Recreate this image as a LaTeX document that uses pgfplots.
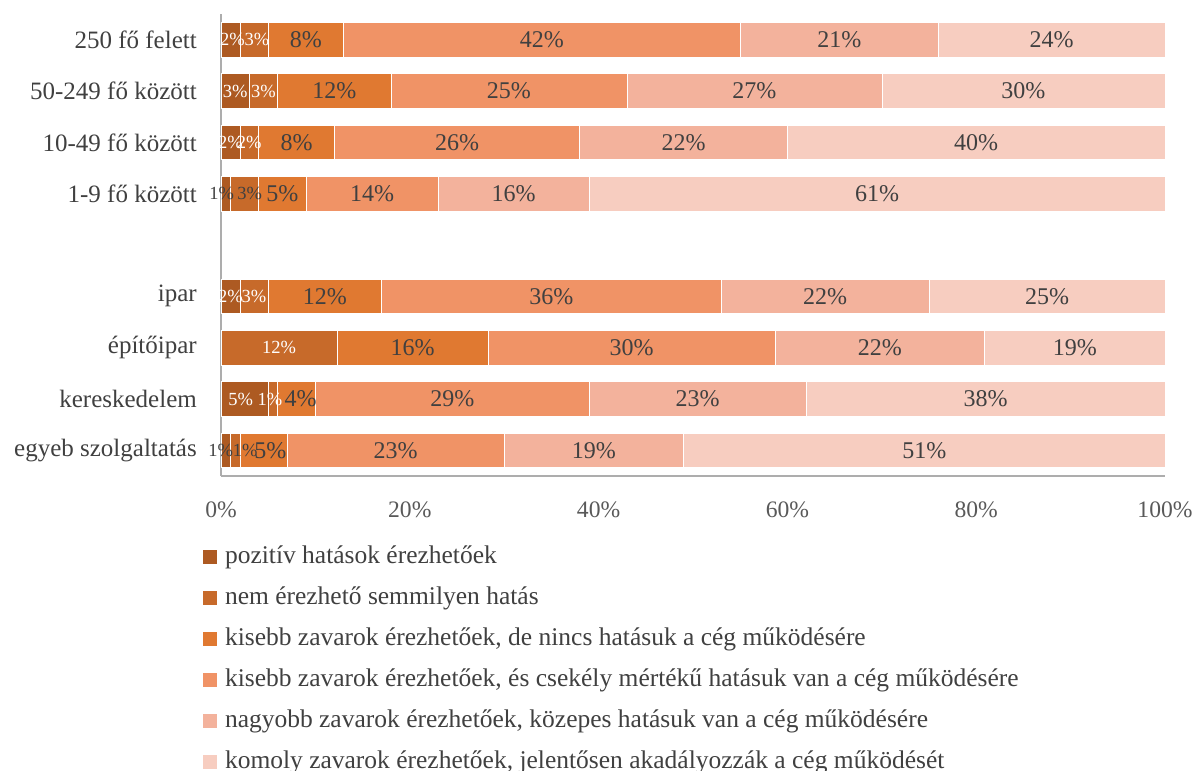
\documentclass[border=0pt]{standalone}
\usepackage{pgfplots}
\pgfplotsset{compat=1.18}
\usepackage{pgfplotstable}
\usepackage{fontspec}
\setmainfont{Liberation Serif}
\definecolor{c1}{HTML}{AD5A22}
\definecolor{c2}{HTML}{C76A2A}
\definecolor{c3}{HTML}{E07931}
\definecolor{c4}{HTML}{F09366}
\definecolor{c5}{HTML}{F3B29C}
\definecolor{c6}{HTML}{F7CDC0}
\definecolor{labgray}{HTML}{404040}
\definecolor{tickgray}{HTML}{595959}
\definecolor{axisgray}{HTML}{ADADAD}
\pgfplotstableread{
y a b c d e f dk oa ob oc
0 2 3 8 42 21 24 0 2 3 0
1 3 3 12 25 27 30 0 0 0 0
2 2 2 8 26 22 40 0 0 0 0
3 1 3 5 14 16 61 1 -4 5 0
5 2 3 12 36 22 25 0 0 0 0
6 0 12.3 16 30.4 22.2 19.1 0 0 0 0
7 5 1 4 29 23 38 0 -4 -3 4
8 1 1 5 23 19 51 1 -5 10 7
}\data
\pgfplotsset{
  smallseg/.style 2 args={fill=#2, draw=white, line width=0.6pt,
    point meta=\thisrow{#1},
    visualization depends on={\thisrow{#1}\as\rawx},
    visualization depends on={\thisrow{o#1}\as\ofs},
    visualization depends on={\thisrow{dk}\as\dk},
    nodes near coords={\ifdim\rawx pt>0pt\relax\ifdim\dk pt>0.5pt\relax\color{labgray}\fi\pgfmathprintnumber[fixed,precision=0]{\pgfplotspointmeta}\%\fi},
    every node near coord/.append style={anchor=center, text=white, inner sep=0pt,
      font=\fontsize{18.5}{20}\selectfont, xshift=\ofs pt}},
  bigseg/.style 2 args={fill=#2, draw=white, line width=0.6pt,
    point meta=\thisrow{#1},
    nodes near coords={\pgfmathprintnumber[fixed,precision=0]{\pgfplotspointmeta}\%},
    every node near coord/.append style={anchor=center, text=labgray, inner sep=0pt,
      font=\fontsize{24}{26}\selectfont}},
}
\begin{document}
\begin{tikzpicture}
\path[use as bounding box] (0,0) rectangle (1194pt,771pt);
\begin{axis}[
  at={(221pt,295pt)}, anchor=south west,
  scale only axis, width=944pt, height=462pt,
  xbar stacked, bar width=34.5pt,
  xmin=0, xmax=100, ymin=-0.5, ymax=8.5, y dir=reverse,
  clip=false,
  axis x line*=bottom, axis y line*=left,
  axis line style={draw=axisgray, line width=1.5pt},
  major tick length=0pt,
  ytick={0,1,2,3,5,6,7,8},
  yticklabels={250 fő felett,50-249 fő között,10-49 fő között,1-9 fő között,ipar,építőipar,kereskedelem,egyeb szolgaltatás},
  yticklabel style={anchor=east, inner sep=0pt, xshift=-24pt, text=labgray, font=\fontsize{25}{28}\selectfont},
  xtick={0,20,40,60,80,100},
  xticklabel={\pgfmathprintnumber{\tick}\%},
  xticklabel style={anchor=north, inner sep=0pt, yshift=-26pt, text=tickgray, font=\fontsize{23.6}{26}\selectfont},
  /pgf/number format/assume math mode=true,
  legend cell align=left,
  legend image code/.code={\fill[#1,draw=none] (0pt,-7pt) rectangle (14pt,7pt);},
  legend style={at={(axis description cs:0,0)}, anchor=north west, xshift=-18pt, yshift=-69pt,
    draw=none, fill=none, inner sep=0pt, outer sep=0pt, row sep=17pt, column sep=8pt,
    nodes={inner sep=0pt, text height=18pt, text depth=6pt, font=\fontsize{25.5}{30}\selectfont, text=labgray}},
]
\addplot[smallseg={a}{c1}] table[x=a,y=y]{\data};
\addlegendentry{pozitív hatások érezhetőek}
\addplot[smallseg={b}{c2}] table[x=b,y=y]{\data};
\addlegendentry{nem érezhető semmilyen hatás}
\addplot[bigseg={c}{c3}, visualization depends on={\thisrow{oc}\as\ofs}, every node near coord/.append style={xshift=\ofs pt}] table[x=c,y=y]{\data};
\addlegendentry{kisebb zavarok érezhetőek, de nincs hatásuk a cég működésére}
\addplot[bigseg={d}{c4}] table[x=d,y=y]{\data};
\addlegendentry{kisebb zavarok érezhetőek, és csekély mértékű hatásuk van a cég működésére}
\addplot[bigseg={e}{c5}] table[x=e,y=y]{\data};
\addlegendentry{nagyobb zavarok érezhetőek, közepes hatásuk van a cég működésére}
\addplot[bigseg={f}{c6}] table[x=f,y=y]{\data};
\addlegendentry{komoly zavarok érezhetőek, jelentősen akadályozzák a cég működését}
\end{axis}
\end{tikzpicture}
\end{document}
